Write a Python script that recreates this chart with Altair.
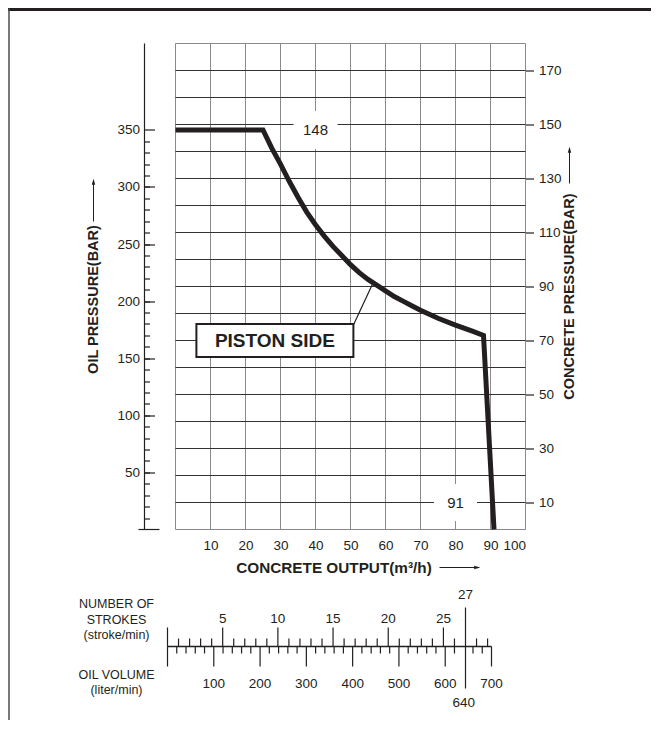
import altair as alt
import pandas as pd

# ---------------- data ----------------
# main grid / axes
output_grid = [0, 10, 20, 30, 40, 50, 60, 70, 80, 90, 100]          # concrete output m3/h
output_labels = [10, 20, 30, 40, 50, 60, 70, 80, 90, 100]
conc_grid = [10, 20, 30, 40, 50, 60, 70, 80, 90, 100, 110, 120, 130, 140, 150, 160, 170]
conc_border = [0, 180]
conc_labels = [10, 30, 50, 70, 90, 110, 130, 150, 170]               # concrete pressure bar
oil_labels = [50, 100, 150, 200, 250, 300, 350]                      # oil pressure bar
oil_minor = list(range(10, 350, 10))

# oil pressure 350 bar  <->  concrete pressure 148 bar
OIL_AT_MAX = 350
CONC_AT_MAX = 148
CONC_TOP = 180
OIL_TOP = CONC_TOP * OIL_AT_MAX / CONC_AT_MAX

# P-Q curve (piston side), oil pressure vs concrete output
curve_x = [0, 25, 27.5, 30, 32.5, 35, 37.5, 40, 42.5, 45, 47.5, 50, 52.5, 55, 57.5,
           60, 62.5, 65, 67.5, 70, 75, 80, 85, 88, 91]
curve_oil = [350, 350, 334, 320, 305, 291, 278, 267, 257, 248, 240, 232, 225, 219, 214,
             209, 204, 200, 196, 192, 185, 179, 173.5, 170, 0]

# annotations
max_conc_value = [148]
max_conc_pos = {"x": [40], "p": [350]}
max_output_value = [91]
max_output_pos = {"x": [80], "c": [10]}
piston_text = ["PISTON SIDE"]
piston_pos = {"x": [28.4], "p": [165.5]}
leader = {"x": [50.8], "x2": [56.6], "p": [179], "p2": [217]}

# bottom scale: strokes and oil volume
stroke_major = [0, 5, 10, 15, 20, 25]
stroke_labels = [5, 10, 15, 20, 25]
stroke_minor = [1, 2, 3, 4, 6, 7, 8, 9, 11, 12, 13, 14, 16, 17, 18, 19,
                21, 22, 23, 24, 26, 28, 29]
oilvol_major = [0, 100, 200, 300, 400, 500, 600, 700]
oilvol_labels = [100, 200, 300, 400, 500, 600, 700]
oilvol_minor = [v for v in range(20, 700, 20) if v % 100 != 0 and v != 640]
rated_strokes = [27]
rated_oilvol = [640]

# ---------------- styling ----------------
W, H = 350, 486
FONT = "Liberation Sans"
INK = "#231f20"
GRID_V = "#8a8a8a"
GRID_H = "#333333"
LBL = 13.5

x_main = alt.Scale(domain=[0, 100])
y_conc = alt.Scale(domain=[0, CONC_TOP])
y_oil = alt.Scale(domain=[0, OIL_TOP])
x_oilvol = alt.Scale(domain=[0, 700], range=[-8, 316])
x_strokes = alt.Scale(domain=[0, 27], range=[-8, 290])

one = pd.DataFrame({"k": [0]})

# ---------------- layers ----------------
vgrid = alt.Chart(pd.DataFrame({"x": output_grid})).mark_rule(color=GRID_V, strokeWidth=1).encode(
    x=alt.X("x:Q", scale=x_main,
            axis=alt.Axis(orient="bottom", values=output_labels, ticks=False, domain=False,
                          grid=False, labelPadding=9, title=None, format="d")),
    y=alt.value(0), y2=alt.value(H))

hgrid = alt.Chart(pd.DataFrame({"c": conc_grid})).mark_rule(color=GRID_H, strokeWidth=1).encode(
    y=alt.Y("c:Q", scale=y_conc,
            axis=alt.Axis(orient="right", values=conc_labels, tickSize=8, domain=False,
                          grid=False, labelPadding=5, title=None, format="d")),
    x=alt.value(0), x2=alt.value(W))

hborder = alt.Chart(pd.DataFrame({"c": conc_border})).mark_rule(color=GRID_V, strokeWidth=1).encode(
    y=alt.Y("c:Q", scale=y_conc, axis=None), x=alt.value(0), x2=alt.value(W))

oil_line = alt.Chart(pd.DataFrame({"lo": [0], "hi": [OIL_TOP]})).mark_rule(color=INK, strokeWidth=1.2).encode(
    y=alt.Y("lo:Q", scale=y_oil,
            axis=alt.Axis(orient="left", offset=26, values=oil_minor, tickSize=5, labels=False,
                          domain=False, grid=False, title=None)),
    y2="hi:Q", x=alt.value(-31))

oil_base = alt.Chart(pd.DataFrame({"lo": [0]})).mark_rule(color=INK, strokeWidth=1.2).encode(
    y=alt.Y("lo:Q", scale=y_oil, axis=None), x=alt.value(-37), x2=alt.value(-16))

curve = alt.Chart(pd.DataFrame({"x": curve_x, "p": curve_oil})).mark_line(
    color=INK, strokeWidth=5, strokeJoin="miter").encode(
    x=alt.X("x:Q", scale=x_main, axis=None),
    y=alt.Y("p:Q", scale=y_oil,
            axis=alt.Axis(orient="left", offset=21, values=oil_labels, tickSize=10, labelPadding=5,
                          domain=False, grid=False, title=None, format="d")))

m148 = pd.DataFrame({"x": max_conc_pos["x"], "p": max_conc_pos["p"], "t": [str(v) for v in max_conc_value]})
box148 = alt.Chart(m148).mark_rect(width=44, height=38, color="white").encode(
    x=alt.X("x:Q", scale=x_main, axis=None), y=alt.Y("p:Q", scale=y_oil, axis=None))
txt148 = alt.Chart(m148).mark_text(fontSize=15, font=FONT, color=INK, baseline="middle").encode(
    x=alt.X("x:Q", scale=x_main, axis=None), y=alt.Y("p:Q", scale=y_oil, axis=None), text="t:N")

m91 = pd.DataFrame({"x": max_output_pos["x"], "c": max_output_pos["c"], "t": [str(v) for v in max_output_value]})
box91 = alt.Chart(m91).mark_rect(width=43, height=37, color="white").encode(
    x=alt.X("x:Q", scale=x_main, axis=None), y=alt.Y("c:Q", scale=y_conc, axis=None))
txt91 = alt.Chart(m91).mark_text(fontSize=15, font=FONT, color=INK, baseline="middle").encode(
    x=alt.X("x:Q", scale=x_main, axis=None), y=alt.Y("c:Q", scale=y_conc, axis=None), text="t:N")

lead = alt.Chart(pd.DataFrame(leader)).mark_rule(color=INK, strokeWidth=1.2).encode(
    x=alt.X("x:Q", scale=x_main, axis=None), x2="x2:Q",
    y=alt.Y("p:Q", scale=y_oil, axis=None), y2="p2:Q")

mp = pd.DataFrame({"x": piston_pos["x"], "p": piston_pos["p"], "t": piston_text})
boxp = alt.Chart(mp).mark_rect(width=157, height=33, color="white", stroke=INK, strokeWidth=2).encode(
    x=alt.X("x:Q", scale=x_main, axis=None), y=alt.Y("p:Q", scale=y_oil, axis=None))
txtp = alt.Chart(mp).mark_text(fontSize=19, font=FONT, fontWeight="bold", color=INK, baseline="middle").encode(
    x=alt.X("x:Q", scale=x_main, axis=None), y=alt.Y("p:Q", scale=y_oil, axis=None), text="t:N")

# axis titles with arrows
def title(text, x, y, angle, size=14.5):
    return alt.Chart(pd.DataFrame({"t": [text]})).mark_text(
        font=FONT, fontSize=size, fontWeight="bold", color=INK, angle=angle,
        align="center", baseline="middle").encode(x=alt.value(x), y=alt.value(y), text="t:N")

t_left = title("OIL PRESSURE(BAR)", -82, 256, 270)
t_right = title("CONCRETE PRESSURE(BAR)", 394, 253, 270)
t_bottom = title("CONCRETE OUTPUT(m³/h)", 158.5, 524, 0, 15.3)

def arrow_v(x, y_from, y_to):
    line = alt.Chart(one).mark_rule(color=INK, strokeWidth=1).encode(
        x=alt.value(x), y=alt.value(y_from), y2=alt.value(y_to + 4))
    head = alt.Chart(one).mark_point(shape="M0,-1L0.45,0.6L-0.45,0.6Z", filled=True, size=60,
                                     color=INK, opacity=1).encode(x=alt.value(x), y=alt.value(y_to + 3))
    return [line, head]

def arrow_h(y, x_from, x_to):
    line = alt.Chart(one).mark_rule(color=INK, strokeWidth=1).encode(
        y=alt.value(y), x=alt.value(x_from), x2=alt.value(x_to - 4))
    head = alt.Chart(one).mark_point(shape="M1,0L-0.6,0.45L-0.6,-0.45Z", filled=True, size=60,
                                     color=INK, opacity=1).encode(x=alt.value(x_to - 3), y=alt.value(y))
    return [line, head]

arrows = arrow_v(-82, 178, 136) + arrow_v(394, 140, 104) + arrow_h(524, 264, 304)

# ---------------- bottom scale ----------------
BY = 603
base = alt.Chart(pd.DataFrame({"a": [0], "b": [700]})).mark_rule(color=INK, strokeWidth=1.3).encode(
    x=alt.X("a:Q", scale=x_oilvol, axis=None), x2="b:Q", y=alt.value(BY))

def ticks(values, scale, y1, y2):
    return alt.Chart(pd.DataFrame({"v": values})).mark_rule(color=INK, strokeWidth=1.2).encode(
        x=alt.X("v:Q", scale=scale, axis=None), y=alt.value(y1), y2=alt.value(y2))

def labels(values, scale, y, size=LBL):
    return alt.Chart(pd.DataFrame({"v": values})).mark_text(
        font=FONT, fontSize=size, color=INK, baseline="middle", align="center").encode(
        x=alt.X("v:Q", scale=scale, axis=None), y=alt.value(y), text=alt.Text("v:Q", format="d"))

bottom = [
    base,
    ticks(stroke_major, x_strokes, BY - 19, BY),
    ticks(stroke_minor, x_strokes, BY - 8, BY),
    ticks(oilvol_major, x_oilvol, BY, BY + 20),
    ticks(oilvol_minor, x_oilvol, BY, BY + 7),
    labels(stroke_labels, x_strokes, 575),
    labels(oilvol_labels, x_oilvol, 640),
    ticks(rated_strokes, x_strokes, 564, 645),
    labels(rated_strokes, x_strokes, 551),
    labels(rated_oilvol, x_oilvol, 659),
    alt.Chart(one).mark_text(font=FONT, fontSize=12.5, color=INK, lineHeight=15.5,
                             align="center", baseline="middle").encode(
        x=alt.value(-59), y=alt.value(560.5), text=alt.value(["NUMBER OF", "STROKES", "(stroke/min)"])),
    alt.Chart(one).mark_text(font=FONT, fontSize=12.5, color=INK, lineHeight=15,
                             align="center", baseline="middle").encode(
        x=alt.value(-59), y=alt.value(631.5), text=alt.value(["OIL VOLUME", "(liter/min)"])),
]

# page frame (top bar and left rule)
frame = [
    alt.Chart(one).mark_rule(color=INK, strokeWidth=3).encode(
        x=alt.value(-168), x2=alt.value(480), y=alt.value(-34)),
    alt.Chart(one).mark_rule(color="#4d4d4d", strokeWidth=1.5).encode(
        x=alt.value(-166.5), y=alt.value(-35), y2=alt.value(690)),
]

layers = [vgrid, hgrid, hborder, oil_line, oil_base, curve, lead, box148, txt148, box91, txt91,
          boxp, txtp, t_left, t_right, t_bottom] + arrows + bottom + frame

chart = alt.layer(*layers).resolve_scale(x="independent", y="independent").properties(
    width=W, height=H,
    padding={"left": 167.5, "top": 35.5, "right": 125, "bottom": 190},
    autosize=alt.AutoSizeParams(type="none"),
).configure_view(stroke=None).configure_axis(
    labelFont=FONT, labelFontSize=LBL, labelColor=INK, tickColor=INK, tickWidth=1.2, domainColor=INK
).configure_text(font=FONT)

chart.save("out.html", embed_options={"renderer": "svg", "actions": False})
